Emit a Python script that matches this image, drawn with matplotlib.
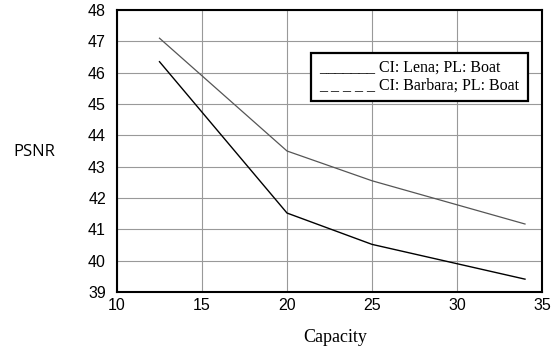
import matplotlib
matplotlib.use('Agg')
import matplotlib.pyplot as plt
from matplotlib.patches import Rectangle

# data
capacity = [12.5, 20, 25, 34]
psnr_lena = [47.1, 43.5, 42.55, 41.17]
psnr_barbara = [46.35, 41.52, 40.52, 39.41]
x_ticks = [10, 15, 20, 25, 30, 35]
y_ticks = [39, 40, 41, 42, 43, 44, 45, 46, 47, 48]
legend_lines = ['_______ CI: Lena; PL: Boat',
                '_ _ _ _ _ CI: Barbara; PL: Boat']

W, H = 551, 349
fig = plt.figure(figsize=(W / 100, H / 100), dpi=100)
ax = fig.add_axes([117 / W, 1 - 292 / H, 425 / W, 282 / H])

# the two curves
ax.plot(capacity, psnr_lena, color='#555555', linewidth=0.9)
ax.plot(capacity, psnr_barbara, color='black', linewidth=1.0)

ax.set_xlim(10, 35)
ax.set_ylim(39, 48)
ax.set_xticks(x_ticks)
ax.set_yticks(y_ticks)
ax.grid(True, color='#999999', linewidth=0.8)
ax.set_axisbelow(True)
ax.tick_params(length=0, labelsize=11.5)
ax.tick_params(axis='x', pad=4)
ax.tick_params(axis='y', pad=8)
for lab in ax.get_xticklabels() + ax.get_yticklabels():
    lab.set_fontfamily('Liberation Sans')
for sp in ax.spines.values():
    sp.set_linewidth(1.5)

# axis titles
fig.text(335 / W, 1 - 337 / H, 'Capacity', fontfamily='Liberation Serif',
         fontsize=13, ha='center', va='center')
fig.text(34 / W, 1 - 152 / H, 'PSNR', fontfamily='Open Sans',
         fontsize=12, ha='center', va='center')

# text style legend box
box = Rectangle((311 / W, 1 - 101 / H), 217 / W, 48 / H,
                transform=fig.transFigure, facecolor='white',
                edgecolor='black', linewidth=1.6, zorder=5)
fig.add_artist(box)
for i, line in enumerate(legend_lines):
    fig.text(319 / W, 1 - (68 + 18 * i) / H, line,
             fontfamily='Liberation Serif', fontsize=11.5,
             ha='left', va='center', zorder=6)

plt.savefig('out.png', dpi=100)
